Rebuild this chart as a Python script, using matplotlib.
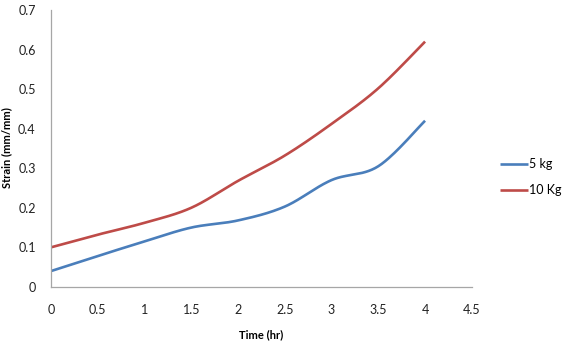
import numpy as np
import matplotlib
matplotlib.use("Agg")
import matplotlib.pyplot as plt

plt.rcParams['font.family'] = ['Lato', 'DejaVu Sans']

time_hr = [0, 0.5, 1, 1.5, 2, 2.5, 3, 3.5, 4]
strain_5kg = [0.04, 0.078, 0.115, 0.15, 0.168, 0.203, 0.27, 0.305, 0.42]
strain_10kg = [0.10, 0.132, 0.162, 0.20, 0.268, 0.332, 0.412, 0.502, 0.62]


def smooth(x, y, n=30):
    # Excel-like smoothed line: cubic Bezier segments with Catmull-Rom tangents
    x = np.asarray(x, float)
    y = np.asarray(y, float)
    px = np.concatenate([[x[0]], x, [x[-1]]])
    py = np.concatenate([[y[0]], y, [y[-1]]])
    t = np.linspace(0, 1, n)
    xs, ys = [], []
    for i in range(len(x) - 1):
        p0 = np.array([px[i + 1], py[i + 1]])
        p3 = np.array([px[i + 2], py[i + 2]])
        c1 = p0 + (np.array([px[i + 2], py[i + 2]]) - np.array([px[i], py[i]])) / 6
        c2 = p3 - (np.array([px[i + 3], py[i + 3]]) - np.array([px[i + 1], py[i + 1]])) / 6
        pts = ((1 - t)[:, None] ** 3 * p0 + 3 * ((1 - t) ** 2 * t)[:, None] * c1
               + 3 * ((1 - t) * t ** 2)[:, None] * c2 + (t ** 3)[:, None] * p3)
        xs.extend(pts[:, 0])
        ys.extend(pts[:, 1])
    return xs, ys


fig = plt.figure(figsize=(5.71, 3.44), dpi=100)
ax = fig.add_axes([0.0893, 0.166, 0.737, 0.805])

ax.plot(*smooth(time_hr, strain_5kg), color='#4A7EBB', lw=1.9, label='5 kg',
        solid_capstyle='butt')
ax.plot(*smooth(time_hr, strain_10kg), color='#BE4B48', lw=1.9, label='10 Kg',
        solid_capstyle='butt')

ax.set_xlim(0, 4.5)
ax.set_ylim(0, 0.7)
ax.set_xticks(np.arange(0, 4.51, 0.5))
ax.set_xticklabels(['0', '0.5', '1', '1.5', '2', '2.5', '3', '3.5', '4', '4.5'])
ax.set_yticks(np.arange(0, 0.71, 0.1))
ax.set_yticklabels(['0', '0.1', '0.2', '0.3', '0.4', '0.5', '0.6', '0.7'])
ax.tick_params(length=0, labelsize=9, colors='#222222')
ax.tick_params(axis='x', pad=12)
ax.tick_params(axis='y', pad=11)

for s in ['top', 'right']:
    ax.spines[s].set_visible(False)
for s in ['left', 'bottom']:
    ax.spines[s].set_color('#A6A6A6')
    ax.spines[s].set_linewidth(0.9)

ax.set_xlabel('Time (hr)', fontsize=8, fontweight='bold', labelpad=10)
fig.text(0.012, 0.57, 'Strain (mm/mm)', rotation=90, fontsize=8,
         fontweight='bold', ha='center', va='center')

ax.legend(loc='center left', bbox_to_anchor=(1.067, 0.396), frameon=False,
          fontsize=9, handlelength=2.2, handletextpad=0.15, labelspacing=1.15,
          borderpad=0, borderaxespad=0)

fig.savefig('out.png', dpi=100)
